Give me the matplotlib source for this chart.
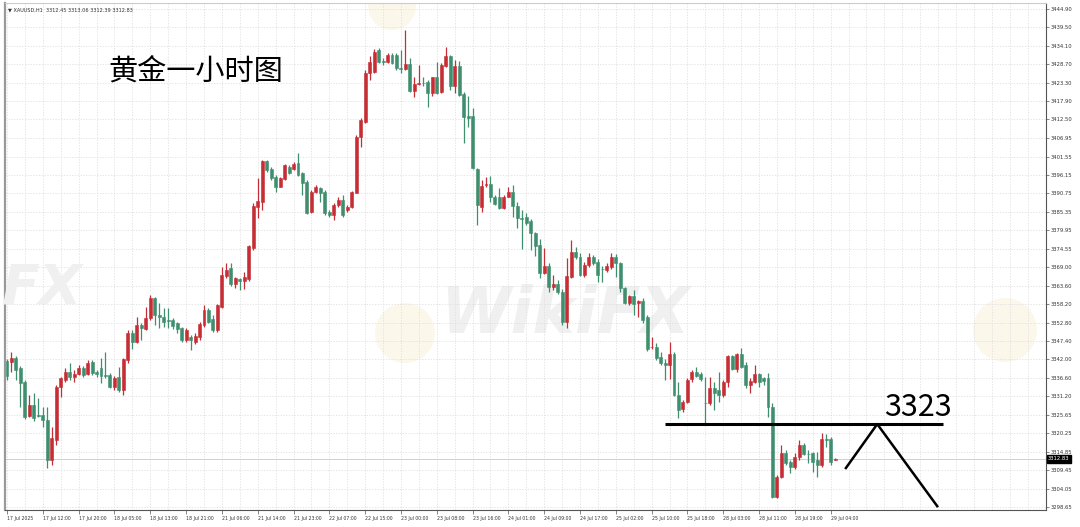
import numpy as np
import matplotlib
matplotlib.use("Agg")
import matplotlib.pyplot as plt
from matplotlib.patches import Ellipse

plt.rcParams['font.family'] = ['Noto Sans CJK SC', 'DejaVu Sans']

# XAUUSD H1 candles
opens = [
    3341.5, 3341.2, 3342.4, 3339.5, 3335.3, 3325.4, 3328.6, 3325.8, 3325.7, 3324.2,
    3312.4, 3318.3, 3333.9, 3336.0, 3338.3, 3336.8, 3337.8, 3339.6, 3337.7, 3341.2,
    3338.3, 3339.6, 3337.4, 3337.4, 3333.9, 3336.8, 3333.0, 3341.8, 3349.7, 3347.1,
    3352.1, 3350.9, 3354.1, 3360.1, 3355.0, 3354.4, 3353.6, 3353.6, 3352.7, 3351.2,
    3347.7, 3348.6, 3347.1, 3348.6, 3352.1, 3356.5, 3354.0, 3350.6, 3357.5, 3366.5,
    3368.7, 3364.1, 3365.5, 3365.1, 3365.5, 3374.6, 3386.8, 3388.3, 3400.4, 3397.9,
    3395.7, 3392.7, 3395.0, 3398.6, 3397.9, 3399.6, 3396.6, 3394.2, 3385.4, 3391.3,
    3392.4, 3391.3, 3385.4, 3384.4, 3387.3, 3388.8, 3385.9, 3386.8, 3391.0, 3407.4,
    3411.8, 3426.0, 3426.5, 3432.9, 3429.6, 3429.4, 3431.4, 3431.4, 3427.5, 3427.2,
    3428.6, 3420.8, 3423.0, 3423.3, 3423.6, 3420.1, 3424.8, 3420.6, 3428.2, 3431.1,
    3422.3, 3428.2, 3419.9, 3413.5, 3413.5, 3397.8, 3386.8, 3393.2, 3393.5, 3389.8,
    3389.8, 3386.4, 3389.8, 3391.3, 3387.1, 3383.5, 3383.7, 3382.5, 3379.0, 3375.6,
    3367.3, 3369.4, 3363.2, 3364.2, 3361.9, 3353.1, 3366.3, 3373.4, 3372.2, 3366.8,
    3369.7, 3372.0, 3370.7, 3368.6, 3368.3, 3369.2, 3372.2, 3370.4, 3362.9, 3358.7,
    3360.6, 3358.5, 3359.2, 3354.4, 3345.5, 3345.7, 3342.8, 3341.0, 3340.4, 3343.6,
    3331.5, 3327.3, 3329.4, 3336.2, 3338.4, 3337.7, 3329.3, 3329.1, 3333.5, 3333.0,
    3331.5, 3335.5, 3343.0, 3339.1, 3343.6, 3340.4, 3334.5, 3335.5, 3337.7, 3336.4,
    3336.4, 3328.1, 3301.7, 3307.6, 3314.6, 3312.0, 3310.3, 3313.4, 3316.9, 3314.3,
    3314.4, 3312.5, 3311.0, 3318.6, 3318.5, 3312.45,
]
highs = [
    3342.0, 3344.2, 3343.0, 3340.0, 3336.0, 3331.5, 3332.0, 3330.7, 3328.0, 3328.0,
    3322.0, 3334.5, 3336.8, 3339.5, 3341.0, 3338.9, 3340.3, 3340.0, 3341.8, 3341.8,
    3339.0, 3342.4, 3344.2, 3338.0, 3337.0, 3339.8, 3342.4, 3350.5, 3350.5, 3354.4,
    3352.7, 3357.4, 3360.9, 3360.3, 3358.6, 3357.1, 3357.1, 3354.2, 3353.0, 3351.5,
    3351.2, 3349.2, 3349.8, 3353.0, 3358.0, 3357.0, 3355.0, 3358.4, 3369.2, 3370.4,
    3370.2, 3366.3, 3365.8, 3367.8, 3375.6, 3387.8, 3395.2, 3400.7, 3400.7, 3398.6,
    3396.1, 3395.7, 3399.4, 3399.1, 3400.1, 3402.5, 3397.1, 3394.7, 3391.7, 3393.2,
    3392.7, 3391.7, 3385.9, 3387.8, 3389.8, 3390.3, 3387.3, 3391.5, 3407.9, 3412.8,
    3427.0, 3431.0, 3433.1, 3433.4, 3430.4, 3432.1, 3432.1, 3432.0, 3432.9, 3438.7,
    3430.4, 3425.0, 3428.5, 3424.8, 3424.0, 3425.0, 3429.4, 3428.9, 3433.8, 3431.4,
    3429.9, 3429.7, 3420.6, 3419.3, 3415.7, 3398.1, 3394.7, 3395.7, 3395.9, 3390.3,
    3392.2, 3390.3, 3392.7, 3393.2, 3388.3, 3385.9, 3385.1, 3383.1, 3379.5, 3377.3,
    3374.6, 3370.2, 3366.8, 3365.3, 3362.6, 3371.7, 3377.1, 3375.1, 3373.2, 3370.7,
    3373.2, 3372.7, 3371.4, 3369.4, 3370.2, 3373.3, 3373.0, 3370.7, 3363.4, 3360.9,
    3362.4, 3359.4, 3359.9, 3355.0, 3348.7, 3346.7, 3344.3, 3342.0, 3347.2, 3344.3,
    3335.5, 3330.1, 3336.4, 3338.9, 3339.9, 3338.4, 3336.9, 3336.9, 3335.5, 3338.4,
    3336.0, 3343.3, 3343.3, 3344.0, 3345.2, 3341.3, 3336.4, 3340.4, 3338.1, 3336.7,
    3338.1, 3329.1, 3308.0, 3316.9, 3315.4, 3312.6, 3314.4, 3318.3, 3317.3, 3315.4,
    3314.9, 3314.9, 3320.3, 3320.1, 3319.3, 3313.06,
]
lows = [
    3336.0, 3338.3, 3336.0, 3328.0, 3324.5, 3325.0, 3324.0, 3325.0, 3322.0, 3310.0,
    3310.9, 3317.0, 3331.0, 3335.3, 3336.0, 3335.3, 3337.5, 3336.8, 3337.3, 3337.3,
    3336.8, 3335.0, 3336.6, 3333.5, 3333.0, 3332.5, 3331.5, 3341.0, 3345.0, 3346.8,
    3347.7, 3350.6, 3353.6, 3352.1, 3351.2, 3351.5, 3351.2, 3351.0, 3349.7, 3347.1,
    3347.1, 3344.8, 3346.5, 3347.7, 3351.6, 3352.6, 3350.0, 3350.1, 3357.0, 3365.8,
    3363.6, 3362.9, 3362.4, 3362.6, 3365.1, 3374.1, 3383.4, 3385.9, 3397.1, 3394.7,
    3391.3, 3392.5, 3394.7, 3396.4, 3397.6, 3395.9, 3390.3, 3384.7, 3384.9, 3390.8,
    3388.3, 3384.4, 3383.9, 3382.9, 3386.8, 3383.9, 3385.4, 3386.4, 3390.8, 3404.5,
    3411.3, 3424.0, 3426.0, 3429.1, 3428.5, 3429.1, 3428.7, 3427.0, 3426.0, 3427.0,
    3420.6, 3419.0, 3422.6, 3422.4, 3416.2, 3419.4, 3419.9, 3420.3, 3428.0, 3421.1,
    3420.1, 3419.4, 3405.5, 3410.3, 3397.8, 3381.5, 3385.4, 3392.7, 3388.3, 3387.3,
    3386.1, 3386.1, 3389.6, 3383.7, 3380.5, 3374.3, 3381.5, 3374.1, 3372.4, 3365.8,
    3367.1, 3361.9, 3362.4, 3361.2, 3352.1, 3351.1, 3365.8, 3371.4, 3366.5, 3366.1,
    3369.2, 3369.7, 3364.8, 3364.8, 3367.8, 3368.4, 3366.3, 3361.9, 3358.3, 3358.0,
    3355.0, 3354.5, 3352.6, 3344.6, 3345.0, 3341.8, 3340.4, 3336.0, 3336.1, 3331.2,
    3324.7, 3326.6, 3329.1, 3335.5, 3336.9, 3335.8, 3323.2, 3328.6, 3327.1, 3329.6,
    3331.1, 3334.0, 3338.9, 3338.4, 3339.4, 3333.5, 3332.0, 3335.2, 3334.0, 3334.5,
    3325.2, 3301.2, 3301.2, 3307.1, 3311.0, 3308.5, 3309.7, 3312.6, 3313.9, 3311.5,
    3309.0, 3307.6, 3310.5, 3316.4, 3311.0, 3312.39,
]
closes = [
    3337.0, 3342.4, 3338.9, 3335.0, 3325.1, 3328.6, 3324.8, 3325.3, 3324.2, 3312.4,
    3318.9, 3333.9, 3336.5, 3338.3, 3336.8, 3337.8, 3339.6, 3337.4, 3341.0, 3338.0,
    3337.7, 3337.0, 3337.0, 3333.9, 3336.5, 3332.9, 3342.1, 3349.7, 3347.1, 3352.1,
    3351.2, 3354.2, 3360.1, 3355.0, 3354.4, 3353.0, 3353.3, 3351.8, 3350.9, 3347.7,
    3350.6, 3347.7, 3348.9, 3352.4, 3356.5, 3353.1, 3350.6, 3358.0, 3366.8, 3368.2,
    3364.1, 3365.8, 3365.1, 3366.1, 3375.3, 3387.1, 3388.5, 3400.4, 3397.6, 3395.2,
    3392.7, 3395.2, 3399.1, 3396.8, 3399.4, 3396.2, 3393.7, 3385.1, 3391.3, 3392.7,
    3390.8, 3384.9, 3384.4, 3387.3, 3388.8, 3384.4, 3386.8, 3391.3, 3407.4, 3412.3,
    3426.0, 3429.4, 3432.4, 3429.4, 3429.4, 3431.4, 3428.9, 3427.5, 3427.3, 3428.6,
    3420.8, 3422.8, 3423.1, 3423.2, 3420.1, 3424.8, 3420.3, 3428.5, 3431.1, 3422.3,
    3428.2, 3419.6, 3413.3, 3412.8, 3398.1, 3387.3, 3393.0, 3393.5, 3389.8, 3387.6,
    3386.4, 3389.8, 3391.3, 3387.1, 3383.4, 3383.3, 3382.1, 3379.0, 3375.4, 3367.3,
    3369.4, 3363.4, 3364.2, 3361.9, 3353.1, 3366.5, 3373.4, 3372.2, 3366.8, 3369.7,
    3372.0, 3370.2, 3366.8, 3368.4, 3369.4, 3372.2, 3370.4, 3362.9, 3358.7, 3360.6,
    3358.3, 3359.2, 3353.6, 3345.0, 3345.7, 3342.3, 3341.0, 3340.4, 3343.6, 3331.5,
    3327.1, 3329.6, 3336.0, 3338.4, 3337.1, 3336.1, 3329.1, 3333.5, 3332.0, 3331.5,
    3335.5, 3343.0, 3339.1, 3343.6, 3339.9, 3334.5, 3335.8, 3337.7, 3335.5, 3335.8,
    3328.1, 3301.7, 3307.6, 3314.6, 3311.7, 3310.3, 3313.4, 3316.9, 3314.2, 3314.1,
    3312.0, 3311.0, 3318.5, 3318.4, 3312.0, 3312.83,
]

time_labels = [
    "17 Jul 2025", "17 Jul 12:00", "17 Jul 20:00", "18 Jul 05:00", "18 Jul 13:00",
    "18 Jul 21:00", "21 Jul 06:00", "21 Jul 14:00", "21 Jul 23:00", "22 Jul 07:00",
    "22 Jul 15:00", "23 Jul 00:00", "23 Jul 08:00", "23 Jul 16:00", "24 Jul 01:00",
    "24 Jul 09:00", "24 Jul 17:00", "25 Jul 02:00", "25 Jul 10:00", "25 Jul 18:00",
    "28 Jul 03:00", "28 Jul 11:00", "28 Jul 19:00", "29 Jul 04:00",
]
price_ticks = [
    3444.90, 3439.50, 3434.10, 3428.70, 3423.30, 3417.90, 3412.50, 3406.95,
    3401.55, 3396.15, 3390.75, 3385.35, 3379.95, 3374.55, 3369.00, 3363.60,
    3358.20, 3352.80, 3347.40, 3342.00, 3336.60, 3331.20, 3325.65, 3320.25,
    3314.85, 3309.45, 3304.05, 3298.65,
]
last_price = 3312.83
level = 3323
# hand-drawn zigzag: bar index / price
zig_x = [187.4, 194.4, 207.8]
zig_y = [3310.1, 3323.0, 3298.9]

red = "#c62d35"
green = "#3f8f6f"

fig = plt.figure(figsize=(10.8, 5.27), dpi=100)
ax = fig.add_axes([5 / 1080, 17 / 527, 1041 / 1080, 507 / 527])

x = np.arange(len(closes))
o = np.array(opens)
c = np.array(closes)
cols = np.where(c >= o, red, green)

ax.vlines(x, lows, highs, colors=cols, lw=0.9, zorder=3)
ax.bar(x, np.maximum(np.abs(c - o), 0.05), bottom=np.minimum(o, c),
       width=0.66, color=cols, edgecolor=cols, linewidth=0.4, zorder=4)

ax.axhline(last_price, color="#c8c8c8", lw=0.6, zorder=2)

ax.set_xlim(-0.45, 232.1)
ax.set_ylim(3297.77, 3446.66)

# axis ticks / labels
ax.set_xticks(np.arange(0, 185, 8))
ax.set_xticklabels(time_labels, ha="left", fontsize=3.3, family="DejaVu Sans")
ax.set_xticks(np.arange(0, 233, 4), minor=True)
ax.tick_params(axis="x", which="major", length=3, width=0.5, pad=1, colors="#555555")
ax.tick_params(axis="x", which="minor", length=0)
ax.yaxis.tick_right()
ax.set_yticks(price_ticks)
ax.set_yticklabels(["%.2f" % p for p in price_ticks], fontsize=3.8,
                   family="DejaVu Sans")
ax.tick_params(axis="y", length=2, width=0.5, pad=1.5, colors="#555555")
for lbl in ax.get_xticklabels() + ax.get_yticklabels():
    lbl.set_color("#333333")

ax.grid(axis="x", which="both", color="#dcdcdc", lw=0.5, ls=(0, (2, 2)), zorder=0)
ax.grid(axis="y", which="major", color="#dcdcdc", lw=0.5, ls=(0, (2, 2)), zorder=0)

for side in ["left", "bottom", "right"]:
    ax.spines[side].set_color("#555555")
    ax.spines[side].set_linewidth(0.8)
ax.spines["top"].set_color("#cccccc")
ax.spines["left"].set_linewidth(1.6)
ax.spines["left"].set_color("#999999")

# watermarks
ax.text(0.538, 0.385, "WikiFX", transform=ax.transAxes, fontsize=46,
        fontweight="bold", style="italic", color="#f0f0f0", ha="center",
        va="center", family="DejaVu Sans", zorder=1)
fig.text(2 / 1080, 1 - 288 / 527, "FX", fontsize=40, fontweight="bold",
         style="italic", color="#f0f0f0", ha="left", va="center",
         family="DejaVu Sans", zorder=0)
for cx, cy, r in [(405, 333, 30), (1005, 330, 32), (392, 6, 24)]:
    ax.add_patch(Ellipse(((cx - 5) / 1041, (510 - cy) / 507), 2 * r / 1041,
                         2 * r / 507, transform=ax.transAxes, color="#faf4e3",
                         alpha=0.7, zorder=1, lw=0))

# current price box
ax.text(1.002, last_price, "%.2f" % last_price, transform=ax.get_yaxis_transform(),
        fontsize=3.8, color="white", va="center", ha="left", family="DejaVu Sans",
        bbox=dict(boxstyle="square,pad=0.25", fc="black", ec="black"), zorder=6)

# header
fig.text(8 / 1080, 1 - 10 / 527, "\u25bc XAUUSD,H1  3312.45 3313.06 3312.39 3312.83",
         fontsize=3.6, color="#333333", va="center", ha="left",
         family=["DejaVu Sans"])

# annotations
ax.text(0.099, 0.864, "黄金一小时图", transform=ax.transAxes, fontsize=21,
        fontweight="medium", color="black", ha="left", va="center", zorder=6)
ax.hlines(level, 147, 209, color="black", lw=2.2, zorder=5)
ax.plot(zig_x, zig_y, color="black", lw=1.8, zorder=5)
ax.text(203.5, 3325.4, str(level), fontsize=22, color="black", ha="center",
        va="baseline", zorder=6)

fig.savefig("out.png", dpi=100)
